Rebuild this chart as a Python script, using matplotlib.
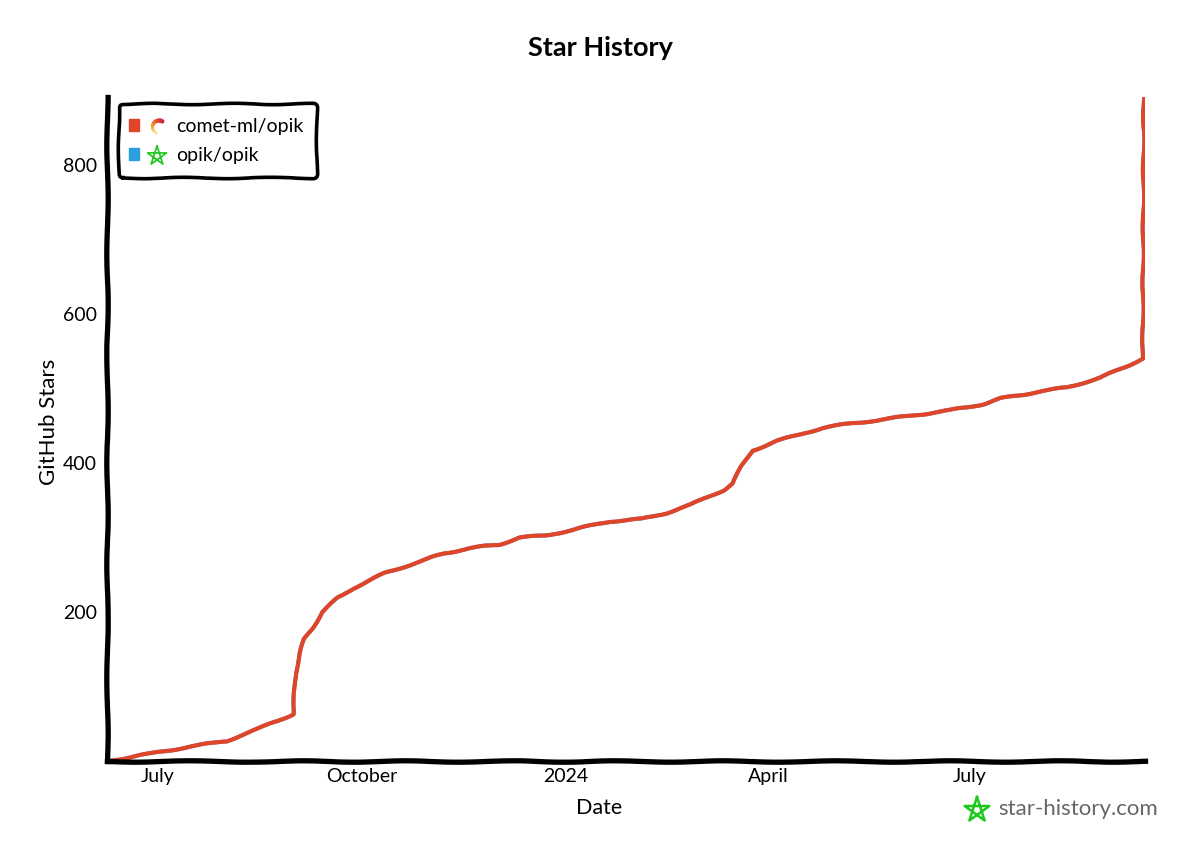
import numpy as np
import pandas as pd
import matplotlib
matplotlib.use("Agg")
import matplotlib.pyplot as plt
from matplotlib.colors import LinearSegmentedColormap
from matplotlib.lines import Line2D
from matplotlib.patches import Patch

plt.rcParams['font.family'] = ['Lato', 'DejaVu Sans']

TITLE = "Star History"
X_LABEL = "Date"
Y_LABEL = "GitHub Stars"
SERIES_NAMES = ["comet-ml/opik", "opik/opik"]
SERIES_COLORS = ["#e0452a", "#2a9fe0"]
WATERMARK = "star-history.com"

dates = pd.to_datetime([
    "2023-06-08", "2023-06-28", "2023-07-01", "2023-07-15", "2023-08-01", "2023-08-15",
    "2023-08-31", "2023-09-01", "2023-09-03", "2023-09-05", "2023-09-09", "2023-09-13",
    "2023-09-20", "2023-09-27", "2023-10-11", "2023-10-26", "2023-11-07", "2023-11-19",
    "2023-12-02", "2023-12-11", "2023-12-23", "2024-01-03", "2024-01-21", "2024-02-04",
    "2024-02-15", "2024-02-26", "2024-03-12", "2024-03-16", "2024-03-20", "2024-03-25",
    "2024-04-05", "2024-04-16", "2024-04-26", "2024-05-10", "2024-05-26", "2024-06-22",
    "2024-07-08", "2024-07-15", "2024-07-30", "2024-08-14", "2024-08-29", "2024-09-11",
    "2024-09-17", "2024-09-17 12:00",
], format="ISO8601")
stars = [
    0, 10, 12, 19, 27, 43,
    63, 118, 145, 164, 180, 200,
    219, 232, 252, 267, 279, 286,
    291, 300, 303, 310, 322, 325,
    333, 344, 364, 373, 395, 417,
    430, 439, 448, 454, 460, 471,
    480, 487, 495, 502, 515, 532,
    541, 900,
]
y_ticks = [200, 400, 600, 800]
x_tick_dates = pd.to_datetime(["2023-07-01", "2023-10-01", "2024-01-01", "2024-04-01", "2024-07-01"])
x_tick_labels = ["July", "October", "2024", "April", "July"]

W, H = 1200, 857
fig = plt.figure(figsize=(W / 100, H / 100), dpi=100, facecolor="white")
L, R, T, B = 107, 1145, 97, 761
ax = fig.add_axes([L / W, 1 - B / H, (R - L) / W, (B - T) / H])


def fx(px, py):
    return px / W, 1 - py / H


# the second series lies fully beneath the first in the reference
l2, = ax.plot(dates, stars, color=SERIES_COLORS[1], lw=2.8, solid_capstyle="round")
l1, = ax.plot(dates, stars, color=SERIES_COLORS[0], lw=3.0, solid_capstyle="round")
l2.set_sketch_params(0.7, 60, 2)
l1.set_sketch_params(0.7, 60, 2)

ax.set_xlim(pd.Timestamp("2023-06-08"), pd.Timestamp("2024-09-18"))
ax.set_ylim(0, 892)
ax.set_yticks(y_ticks)
ax.set_xticks(x_tick_dates)
ax.set_xticklabels(x_tick_labels)
ax.tick_params(axis="both", length=0, labelsize=14)
ax.tick_params(axis="y", pad=7)
ax.tick_params(axis="x", pad=5)

for s in ["top", "right"]:
    ax.spines[s].set_visible(False)
for s in ["left", "bottom"]:
    ax.spines[s].set_linewidth(3.8)
    ax.spines[s].set_color("black")
    ax.spines[s].set_sketch_params(0.7, 120, 2)

fig.text(600 / W, 1 - 48 / H, TITLE, ha="center", va="center", fontsize=19.5, fontweight="bold", color="black")
fig.text(599 / W, 1 - 808 / H, X_LABEL, ha="center", va="center", fontsize=15.5)
fig.text(49 / W, 1 - 422 / H, Y_LABEL, ha="center", va="center", fontsize=16, rotation=90)

handles = [Patch(facecolor=c, edgecolor=c, label=n) for c, n in zip(SERIES_COLORS, SERIES_NAMES)]
leg = ax.legend(handles=handles, loc="upper left", bbox_to_anchor=(119 / W, 1 - 104 / H),
                bbox_transform=fig.transFigure, borderaxespad=0, fontsize=14, frameon=True,
                fancybox=True, framealpha=1, edgecolor="black", handlelength=0.51, handleheight=0.52,
                handletextpad=1.7, labelspacing=0.62, borderpad=0.72)
frame = leg.get_frame()
frame.set_linewidth(2.6)
frame.set_sketch_params(0.7, 90, 2)
for h in leg.legend_handles:
    h.set_x(h.get_x() - 2.9)


def star(cx, cy, r, color, lw):
    ang = np.deg2rad(-90 + 144 * np.arange(6))
    xs = cx + r * np.cos(ang)
    ys = cy + r * np.sin(ang)
    pts = [fx(a, b) for a, b in zip(xs, ys)]
    ln = Line2D([p[0] for p in pts], [p[1] for p in pts], color=color, lw=lw,
                transform=fig.transFigure, zorder=10)
    fig.add_artist(ln)


def comet(cx, cy, r):
    angles = np.linspace(np.deg2rad(-60), np.deg2rad(-250), 13)
    cols = LinearSegmentedColormap.from_list("c", ["#c8203f", "#e8502a", "#f5a623", "#fbe08a"])
    for i in range(12):
        a = np.linspace(angles[i], angles[i + 1], 4)
        p = [fx(cx + r * np.cos(t), cy + r * np.sin(t)) for t in a]
        fig.add_artist(Line2D([q[0] for q in p], [q[1] for q in p], color=cols(i / 11), lw=3.2 - 0.15 * i,
                              transform=fig.transFigure, zorder=10, solid_capstyle="round"))


comet(159, 127, 6.5)
star(157, 156, 10, "#1ec81e", 1.2)
star(977, 810, 13, "#1ec81e", 1.8)
fig.text(998 / W, 1 - 809 / H, WATERMARK, ha="left", va="center", fontsize=16, color="#666666")

fig.savefig("out.png", dpi=100, facecolor="white")
